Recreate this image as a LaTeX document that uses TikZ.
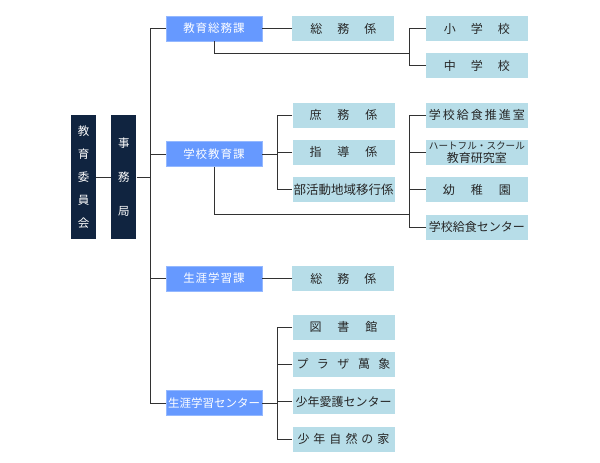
\documentclass[tikz,border=0pt]{standalone}
\usepackage{fontspec}
\setmainfont{Noto Sans CJK JP}
\usepackage{tikz}
\usetikzlibrary{positioning}
\definecolor{boardnavy}{RGB}{16, 36, 64}
\definecolor{kablue}{RGB}{102, 153, 255}
\definecolor{kakarilight}{RGB}{183, 221, 232}
\definecolor{linegray}{RGB}{50, 50, 50}
\newcommand{\gp}[1]{\hspace{#1pt}}

\begin{document}
\begin{tikzpicture}[
    x=1pt, y=-1pt,
    every node/.style={font=\fontsize{11.5}{13}\selectfont, inner sep=0pt},
    board/.style={rectangle, minimum width=25pt, minimum height=124pt, fill=boardnavy, text=white, align=center},
    ka/.style={rectangle, minimum width=96pt, minimum height=25pt, fill=kablue, draw=kablue!70!white, line width=0.5pt, text=white, align=center},
    kakari/.style={rectangle, minimum width=102pt, minimum height=25pt, fill=kakarilight, text=black!85, align=center, font=\fontsize{12}{13}\selectfont},
    link/.style={draw=linegray, line width=0.9pt}
]
\useasboundingbox (0,0) rectangle (600,463);

% left column
\node[board, font=\fontsize{11.5}{23}\selectfont] (kai) at (83.5,177) {教\\育\\委\\員\\会};
\node[board, font=\fontsize{11.5}{34}\selectfont, right=15pt of kai] (kyoku) {事\\務\\局};

% ka
\node[ka] (soumu) at (214,28.5) {教\gp{1}育\gp{1}総\gp{1}務\gp{1}課};
\node[ka, below=100pt of soumu] (gakko) {学\gp{1}校\gp{1}教\gp{1}育\gp{1}課};
\node[ka, below=99pt of gakko] (shogai) {生\gp{1}涯\gp{1}学\gp{1}習\gp{1}課};
\node[ka, below=99pt of shogai] (center) {生涯学習センター};

% kakari, first column
\node[kakari, right=30pt of soumu] (soumu1) {総\gp{15}務\gp{15}係};
\node[kakari] (shomu) at (343.5,115) {庶\gp{16}務\gp{16}係};
\node[kakari, below=12pt of shomu] (shidou) {指\gp{16}導\gp{16}係};
\node[kakari, below=12pt of shidou, font=\fontsize{12.5}{13}\selectfont] (bukatsu) {部活動地域移行係};
\node[kakari, right=30pt of shogai] (soumu3) {総\gp{15}務\gp{15}係};
\node[kakari] (toshokan) at (343.5,327) {図\gp{16}書\gp{16}館};
\node[kakari, below=12pt of toshokan] (plaza) {プ\gp{8.5}ラ\gp{8.5}ザ\gp{8.5}萬\gp{8.5}象};
\node[kakari, below=12pt of plaza] (aigo) {少年愛護センター};
\node[kakari, below=12pt of aigo] (shizen) {少\gp{4}年\gp{4}自\gp{4}然\gp{4}の\gp{4}家};

% kakari, second column
\node[kakari, right=31pt of soumu1] (shou) {小\gp{15}学\gp{15}校};
\node[kakari, below=12pt of shou] (chuu) {中\gp{15}学\gp{15}校};
\node[kakari, right=31pt of shomu] (suishin) {学\gp{2}校\gp{2}給\gp{2}食\gp{2}推\gp{2}進\gp{2}室};
\node[kakari, below=12pt of suishin, font=\fontsize{12}{13}\selectfont] (heart) {{\fontsize{9.6}{11}\selectfont ハートフル・スクール}\\教育研究室};
\node[kakari, below=12pt of heart] (youchi) {幼\gp{16}稚\gp{16}園};
\node[kakari, below=12pt of youchi] (kyushoku) {学校給食センター};

\coordinate (br1) at ([xshift=-16pt]shou.west);
\coordinate (br2) at ([xshift=-16pt]suishin.west);

% trunk
\draw[link] (kai) -- (kyoku);
\draw[link] (kyoku.east) -- ++(14,0);
\draw[link] (soumu.west) -- ++(-15,0) |- (center.west);
\draw[link] (gakko.west) -- ++(-15,0);
\draw[link] (shogai.west) -- ++(-15,0);

% kyouiku soumu ka
\draw[link] (soumu) -- (soumu1);
\draw[link] (shou.west) -- ++(-16,0) |- (chuu.west);
\draw[link] (soumu.south) -- ++(0,12) coordinate (k1) -- (k1 -| br1);

% gakkou kyouiku ka
\draw[link] (gakko.east) -- ++(15,0);
\draw[link] (shomu.west) -- ++(-15,0) |- (bukatsu.west);
\draw[link] (shidou.west) -- ++(-15,0);
\draw[link] (suishin.west) -- ++(-16,0) |- (kyushoku.west);
\draw[link] (heart.west) -- ++(-16,0);
\draw[link] (youchi.west) -- ++(-16,0);
\draw[link] (gakko.south) -- ++(0,48) coordinate (k2) -- (k2 -| br2);

% shougai gakushuu
\draw[link] (shogai) -- (soumu3);
\draw[link] (center.east) -- ++(15,0);
\draw[link] (toshokan.west) -- ++(-15,0) |- (shizen.west);
\draw[link] (plaza.west) -- ++(-15,0);
\draw[link] (aigo.west) -- ++(-15,0);

\end{tikzpicture}
\end{document}
